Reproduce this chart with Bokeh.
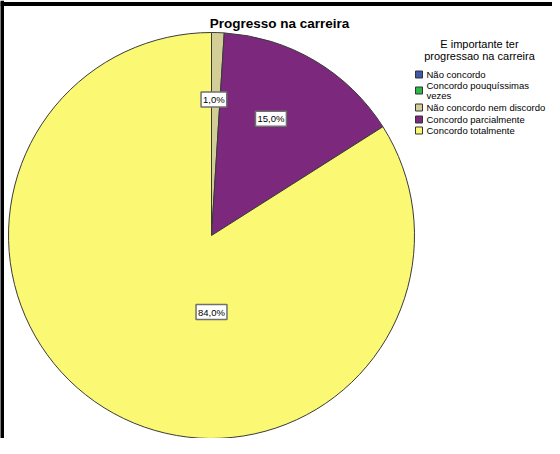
import math
from bokeh.plotting import figure
from bokeh.models import Range1d, Span, ColumnDataSource
from bokeh.core.properties import value
from bokeh.embed import file_html
from bokeh.resources import INLINE

# ---- data ----
title_text = "Progresso na carreira"
legend_title = "E importante ter\nprogressao na carreira"
categories = ["Não concordo", "Concordo pouquíssimas\nvezes", "Não concordo nem discordo",
              "Concordo parcialmente", "Concordo totalmente"]
percents = [0.0, 0.0, 1.0, 15.0, 84.0]
colors = ["#3E58AC", "#2EB848", "#D3CE97", "#7C287D", "#FBF873"]

# ---- layout (figure pixel units) ----
W, H = 552, 438
cx, cy, R = 211, 203, 203
label_angle_deg = [0, 0, 1, 27, 180]      # clockwise from 12 o'clock
label_rad_frac = [0, 0, 0.67, 0.645, 0.377]
legend_sq_x = 418.5
legend_txt_x = 426
legend_row_y = [364, 348, 331, 319, 308]
FONT = "Liberation Sans"

p = figure(width=W, height=H, output_backend="svg", toolbar_location=None,
           x_range=Range1d(0, W), y_range=Range1d(0, H), min_border=0)
p.axis.visible = False
p.grid.visible = False
p.outline_line_color = None
p.background_fill_color = "white"
p.border_fill_color = "white"

# wedges
total = sum(percents)
starts, ends, cols = [], [], []
cum = 0.0
for v, c in zip(percents, colors):
    a0 = math.pi / 2 - 2 * math.pi * cum / total
    cum += v
    a1 = math.pi / 2 - 2 * math.pi * cum / total
    if v > 0:
        starts.append(a0); ends.append(a1); cols.append(c)
src = ColumnDataSource(dict(x=[cx] * len(starts), y=[cy] * len(starts), s=starts, e=ends, c=cols))
p.wedge(x="x", y="y", radius=R, start_angle="s", end_angle="e", direction="clock",
        fill_color="c", line_color="#3a3a3a", line_width=1, source=src)

# percentage labels
lx, ly, lt = [], [], []
for v, ang, rf in zip(percents, label_angle_deg, label_rad_frac):
    if v > 0:
        a = math.radians(ang)
        lx.append(cx + rf * R * math.sin(a))
        ly.append(cy + rf * R * math.cos(a))
        lt.append(f"{v:.1f}%".replace(".", ","))
p.text(x=lx, y=ly, text=lt, text_font=value(FONT), text_font_size="9.5px",
       text_align="center", text_baseline="middle", text_color="black",
       background_fill_color="white", border_line_color="#707070", border_line_width=1.5,
       padding=2)

# title
p.text(x=[279], y=[415], text=[title_text], text_font=value(FONT), text_font_size="13.5px",
       text_font_style="bold", text_align="center", text_baseline="middle", text_color="black")

# legend
p.text(x=[479], y=[389], text=[legend_title], text_font=value(FONT), text_font_size="11px",
       text_align="center", text_baseline="middle", text_color="black", text_line_height=1.0)
p.rect(x=[legend_sq_x] * len(categories), y=legend_row_y, width=7, height=7,
       fill_color=colors, line_color="#333333", line_width=1)
p.text(x=[legend_txt_x] * len(categories), y=legend_row_y, text=categories,
       text_font=value(FONT), text_font_size="9.5px", text_align="left",
       text_baseline="middle", text_color="black", text_line_height=0.9)

# frame
p.add_layout(Span(location=1.5, dimension="height", line_color="black", line_width=4))
p.add_layout(Span(location=434.5, dimension="width", line_color="black", line_width=4))

open("out.html", "w").write(file_html(p, INLINE))
